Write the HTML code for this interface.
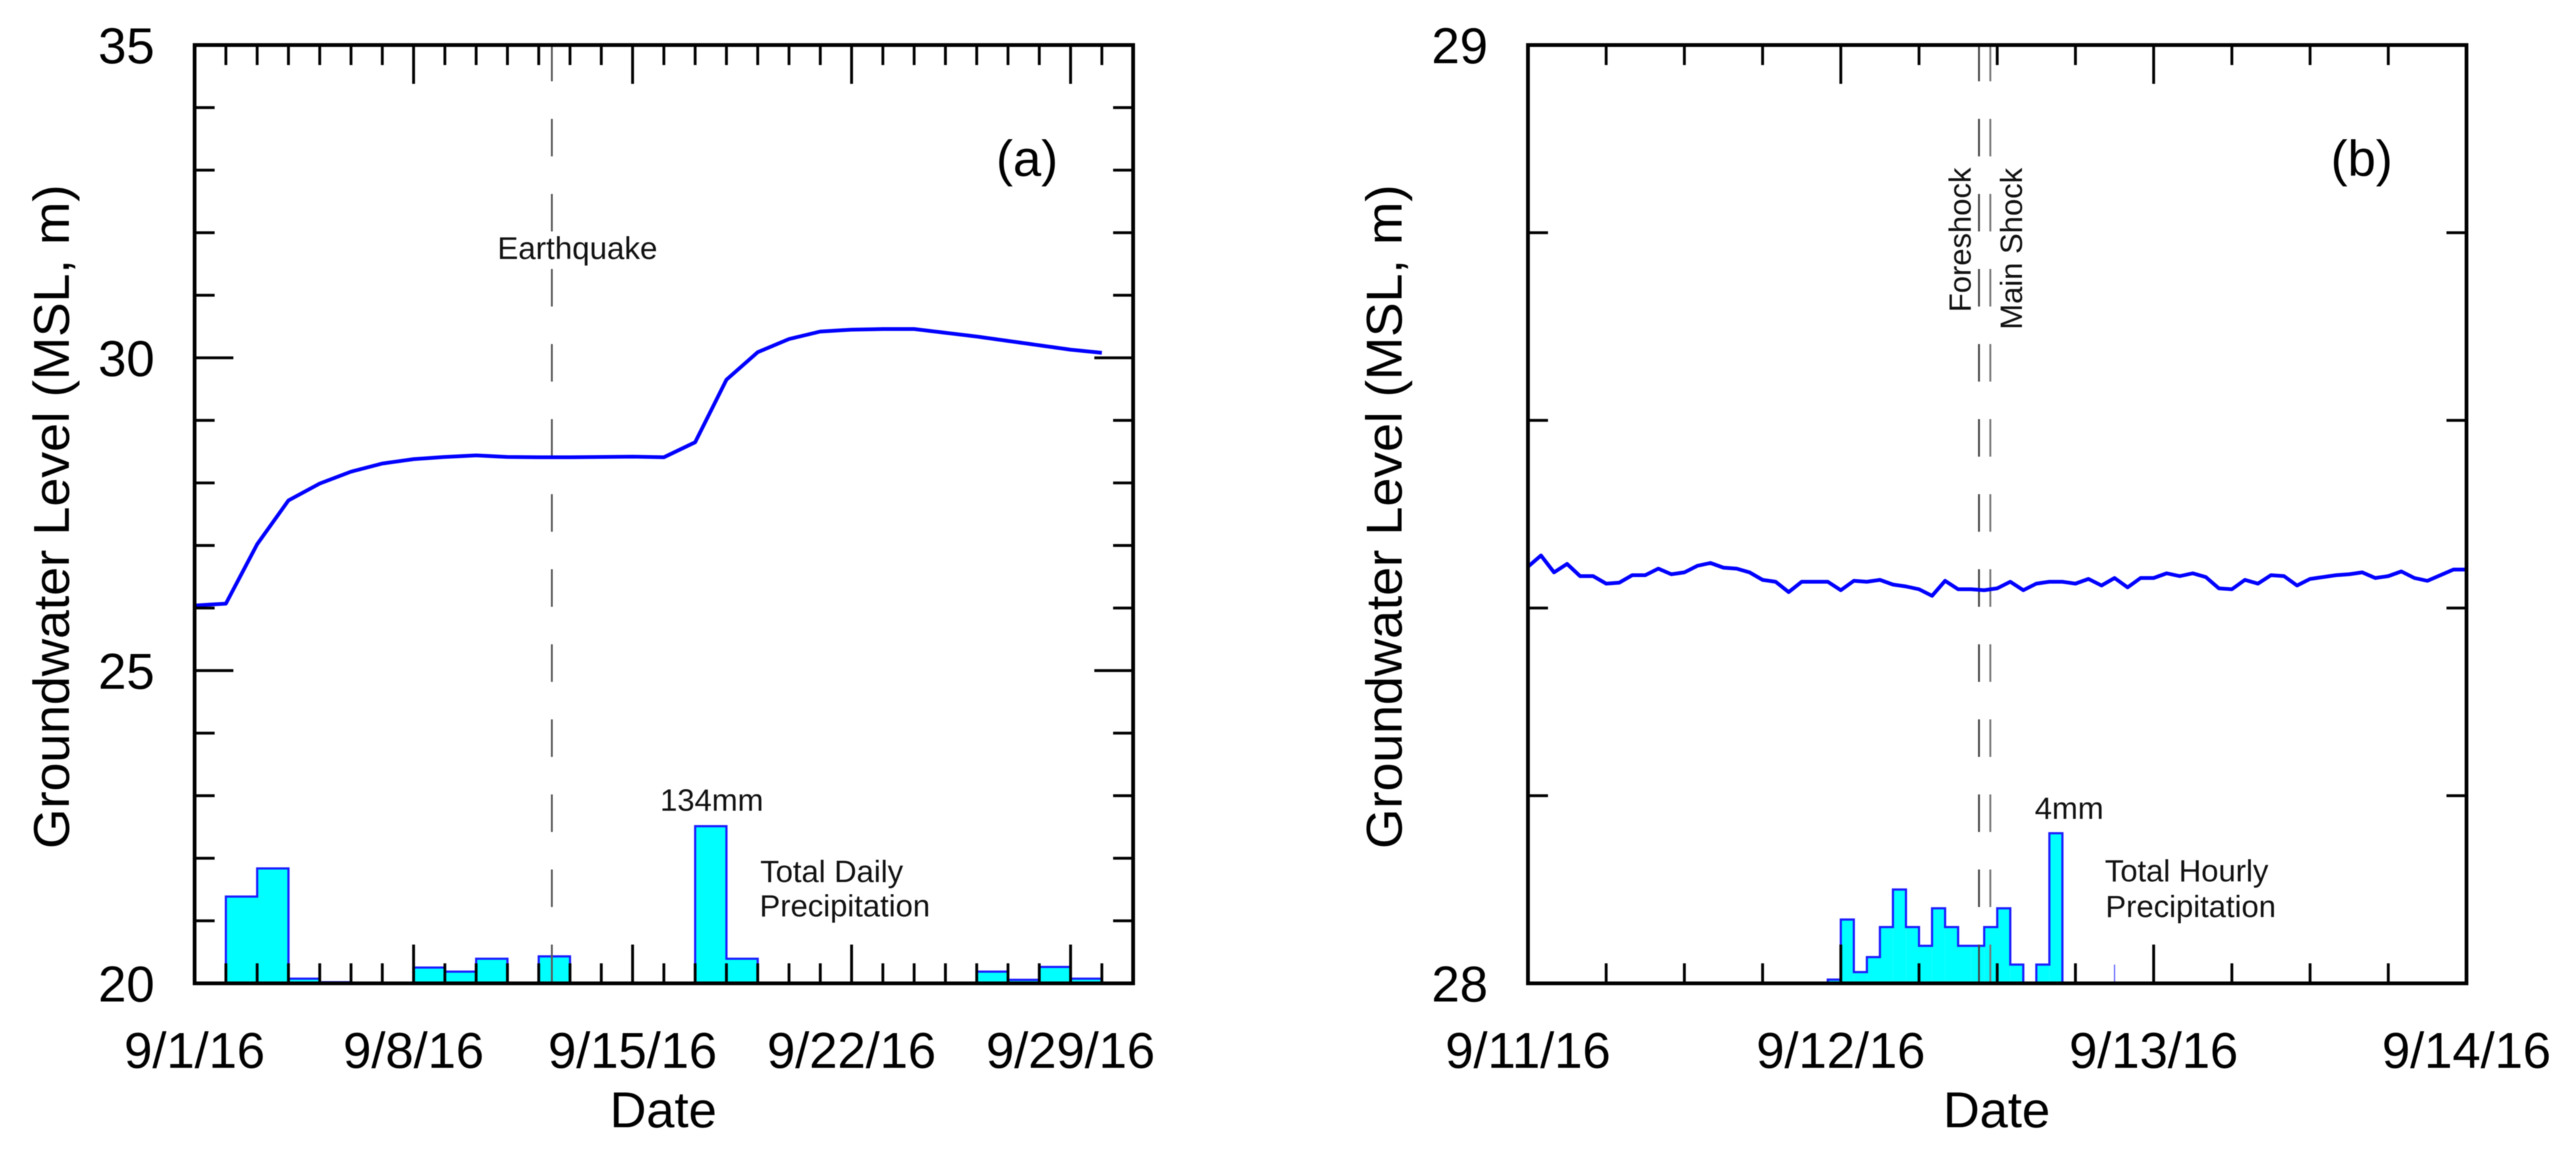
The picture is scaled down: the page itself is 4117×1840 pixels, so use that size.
<!DOCTYPE html>
<html lang="en">
<head>
<meta charset="utf-8">
<title>Groundwater level and precipitation</title>
<style>
html,body{margin:0;padding:0;background:#fff;width:4117px;height:1840px;overflow:hidden}
svg{display:block;filter:blur(0.8px)}
text{font-family:"Liberation Sans",Arial,sans-serif;fill:#000}
.big{font-size:81px}
.small{font-size:49.5px;fill:#111}
</style>
</head>
<body>
<svg id="figure" xmlns="http://www.w3.org/2000/svg" width="4117" height="1840" viewBox="0 0 4117 1840">
  <rect x="0" y="0" width="4117" height="1840" fill="#fff"/>
  <g id="panel-a"></g>
  <g id="panel-b"></g>

  <g>
    <text class="big" transform="translate(110,1357) rotate(-90)" textLength="1062" lengthAdjust="spacingAndGlyphs">Groundwater Level (MSL, m)</text>
    <text class="big" x="1060" y="1802" text-anchor="middle">Date</text>
    <text class="big" x="1592" y="281">(a)</text>
    <text class="small" x="795" y="414" style="font-size:50px">Earthquake</text>
    <text class="small" x="1055" y="1296">134mm</text>
    <text class="small" x="1215" y="1410">Total Daily</text>
    <text class="small" x="1214" y="1465">Precipitation</text>
  </g>

  <g>
    <text class="big" transform="translate(2240,1357) rotate(-90)" textLength="1062" lengthAdjust="spacingAndGlyphs">Groundwater Level (MSL, m)</text>
    <text class="big" x="3191" y="1802" text-anchor="middle">Date</text>
    <text class="big" x="3725" y="281">(b)</text>
    <text class="small" transform="translate(3149.5,499) rotate(-90)">Foreshock</text>
    <text class="small" transform="translate(3231.5,527) rotate(-90)">Main Shock</text>
    <text class="small" x="3252" y="1309">4mm</text>
    <text class="small" x="3364" y="1409">Total Hourly</text>
    <text class="small" x="3365" y="1466">Precipitation</text>
  </g>
</svg>

<script>
// ---- Panel (a) data ----
const levelDailyA = [26.04,26.07,27.02,27.72,27.99,28.18,28.31,28.38,28.415,28.44,28.415,28.41,28.41,28.415,28.42,28.41,28.65,29.65,30.09,30.30,30.42,30.45,30.46,30.46,30.40,30.34,30.27,30.20,30.13,30.08];
const rainDailyA = [0,74,98,4,1,0,0,13.5,10,21,0,23,0,0,0,0,134,21,0,0,0,0,0,0,0,10,3,14,4,0];
const xTickLabelsA = ['9/1/16','9/8/16','9/15/16','9/22/16','9/29/16'];
const xTickDaysA = [0,7,14,21,28];
const yTickLabelsA = ['20','25','30','35'];
const yMajorValuesA = [20,25,30,35];
const eventDaysA = [11.42];

// ---- Panel (b) data ----
const levelHourlyB = [28.444,28.456,28.438,28.447,28.434,28.434,28.426,28.427,28.435,28.435,28.442,28.436,28.438,28.445,28.448,28.443,28.442,28.438,28.430,28.428,28.417,28.428,28.428,28.428,28.419,28.429,28.428,28.430,28.425,28.423,28.420,28.413,28.429,28.420,28.420,28.419,28.421,28.428,28.419,28.426,28.428,28.428,28.426,28.431,28.424,28.432,28.422,28.432,28.432,28.437,28.434,28.437,28.433,28.421,28.420,28.430,28.426,28.435,28.434,28.424,28.431,28.433,28.435,28.436,28.438,28.432,28.434,28.439,28.432,28.429,28.435,28.441,28.441];
const rainHourlyB = [0,0,0,0,0,0,0,0,0,0,0,0,0,0,0,0,0,0,0,0,0,0,0,0.1,1.7,0.3,0.7,1.5,2.5,1.5,1,2,1.5,1,1,1.5,2,0.5,0,0.5,4,0,0,0,0,0,0,0,0,0,0,0,0,0,0,0,0,0,0,0,0,0,0,0,0,0,0,0,0,0,0,0];
const traceHoursB = [45];
const traceRainB = [0.5];
const xTickLabelsB = ['9/11/16','9/12/16','9/13/16','9/14/16'];
const xTickHoursB = [0,24,48,72];
const yTickLabelsB = ['28','29'];
const yMajorValuesB = [28,29];
const eventHoursB = [34.6,35.47];

const SVGNS = 'http://www.w3.org/2000/svg';
const TOP = 72, BOTTOM = 1572, PLOT = 1500;

function mk(tag, parent, attrs) {
  const el = document.createElementNS(SVGNS, tag);
  for (const k in attrs) el.setAttribute(k, attrs[k]);
  parent.appendChild(el);
  return el;
}

function buildPanel(g, cfg) {
  const x = cfg.x, y = cfg.y, rain = cfg.rain, L = cfg.left, R = L + PLOT;

  // Precipitation bars
  cfg.rainValues.forEach(function (v, i) {
    if (v <= 0) return;
    const bar = mk('rect', g, {x: x(i), y: rain(v), width: x(i + 1) - x(i), height: BOTTOM - rain(v), fill: '#00ffff'});
    
    
  });

  // Step outline of the bars
  let d = '', open = false;
  cfg.rainValues.forEach(function (v, i) {
    if (v > 0) {
      if (!open) { d += 'M' + x(i) + ' ' + BOTTOM; open = true; }
      d += 'V' + rain(v) + 'H' + x(i + 1);
    } else if (open) {
      d += 'V' + BOTTOM; open = false;
    }
  });
  if (open) d += 'V' + BOTTOM;
  const outline = mk('path', g, {d: d, fill: 'none', stroke: '#1c1cff', 'stroke-width': 3.5});
  
  

  // Event markers
  cfg.events.forEach(function (t, i) {
    const ev = mk('line', g, {x1: x(t), x2: x(t), y1: 70, y2: BOTTOM, stroke: cfg.eventColors[i], 'stroke-width': 3, 'stroke-dasharray': '60 60'});
    
    
  });

  // Groundwater level line
  const pts = cfg.levels.map(function (v, i) { return x(i) + ',' + y(v); }).join(' ');
  const line = mk('polyline', g, {points: pts, fill: 'none', stroke: '#0000ff', 'stroke-width': 6, 'stroke-linejoin': 'round'});
  
  

  // X ticks (top and bottom)
  for (let t = 0; t <= cfg.xMax; t += cfg.xMinorStep) {
    const major = cfg.xMajor.indexOf(t) >= 0;
    const len = major ? 62 : 32;
    [[TOP, TOP + len], [BOTTOM, BOTTOM - len]].forEach(function (p) {
      const tick = mk('line', g, {x1: x(t), x2: x(t), y1: p[0], y2: p[1], stroke: '#000', 'stroke-width': 4.5});
      
      
    });
  }

  // Y ticks (left and right)
  for (let n = 0; n <= cfg.yCount; n++) {
    const v = cfg.yMin + n * cfg.yMinorStep;
    const major = cfg.yMajor.some(function (m) { return Math.abs(m - v) < 1e-6; });
    const len = major ? 62 : 32;
    [[L, L + len], [R, R - len]].forEach(function (p) {
      const tick = mk('line', g, {x1: p[0], x2: p[1], y1: y(v), y2: y(v), stroke: '#000', 'stroke-width': 4.5});
      
      
    });
  }

  // Frame
  const frame = mk('rect', g, {x: L, y: TOP, width: PLOT, height: PLOT, fill: 'none', stroke: '#000', 'stroke-width': 6});
  
  

  // Tick labels
  cfg.xMajor.forEach(function (t, i) {
    const lab = mk('text', g, {x: x(t), y: 1707, 'text-anchor': 'middle', class: 'big'});
    lab.textContent = cfg.xLabels[i];
    
    
  });
  cfg.yMajor.forEach(function (v, i) {
    const lab = mk('text', g, {x: L - 64, y: y(v) + 29, 'text-anchor': 'end', class: 'big'});
    lab.textContent = cfg.yLabels[i];
    
    
  });
}

const xA = function (d) { return 311 + d * PLOT / 30; };
const yA = function (v) { return BOTTOM - (v - 20) * PLOT / 15; };
const rainA = function (mm) { return BOTTOM - mm * PLOT / 800; };

buildPanel(document.getElementById('panel-a'), {
  left: 311, x: xA, y: yA, rain: rainA,
  rainValues: rainDailyA, levels: levelDailyA,
  events: eventDaysA, eventColors: ['#5a5a5a'],
  xMax: 30, xMinorStep: 1, xMajor: xTickDaysA, xLabels: xTickLabelsA,
  yMin: 20, yMinorStep: 1, yCount: 15, yMajor: yMajorValuesA, yLabels: yTickLabelsA
});

const xB = function (h) { return 2442 + h * PLOT / 72; };
const yB = function (v) { return BOTTOM - (v - 28) * PLOT; };
const rainB = function (mm) { return BOTTOM - mm * PLOT / 25; };

const panelB = document.getElementById('panel-b');
traceHoursB.forEach(function (h, i) {
  const tr = mk('line', panelB, {x1: xB(h), x2: xB(h), y1: rainB(traceRainB[i]), y2: BOTTOM, stroke: '#6a6aff', 'stroke-width': 2});
  
  
});

buildPanel(panelB, {
  left: 2442, x: xB, y: yB, rain: rainB,
  rainValues: rainHourlyB, levels: levelHourlyB,
  events: eventHoursB, eventColors: ['#444444', '#777777'],
  xMax: 72, xMinorStep: 6, xMajor: xTickHoursB, xLabels: xTickLabelsB,
  yMin: 28, yMinorStep: 0.2, yCount: 5, yMajor: yMajorValuesB, yLabels: yTickLabelsB
});
</script>
</body>
</html>
